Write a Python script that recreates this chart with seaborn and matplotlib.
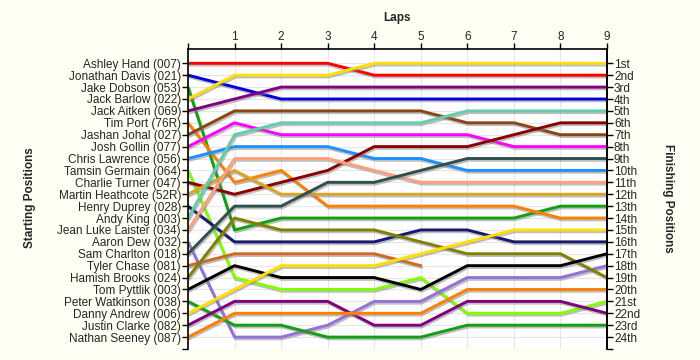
import numpy as np
import pandas as pd
import matplotlib
matplotlib.use('Agg')
import matplotlib.pyplot as plt
import matplotlib.patheffects as pe
import seaborn as sns

# ==== data: grid order, colours, position after each lap (lap 0 = start) ====
drivers = ['Ashley Hand (007)', 'Jonathan Davis (021)', 'Jake Dobson (053)', 'Jack Barlow (022)',
           'Jack Aitken (069)', 'Tim Port (76R)', 'Jashan Johal (027)', 'Josh Gollin (077)',
           'Chris Lawrence (056)', 'Tamsin Germain (064)', 'Charlie Turner (047)',
           'Martin Heathcote (52R)', 'Henry Duprey (028)', 'Andy King (003)',
           'Jean Luke Laister (034)', 'Aaron Dew (032)', 'Sam Charlton (018)', 'Tyler Chase (081)',
           'Hamish Brooks (024)', 'Tom Pyttlik (003)', 'Peter Watkinson (038)',
           'Danny Andrew (006)', 'Justin Clarke (082)', 'Nathan Seeney (087)']

colours = ['#FF0000', '#0000E0', '#10A010', '#FFE000', '#800080', '#FF8000', '#8B4513', '#FF00FF',
           '#1E90FF', '#80FF00', '#8B0000', '#DAA520', '#191970', '#66CDAA', '#FFA07A', '#9370DB',
           '#2F4F4F', '#D2691E', '#808000', '#000000', '#10A010', '#FFE000', '#800080', '#FF8000']

laps = [0, 1, 2, 3, 4, 5, 6, 7, 8, 9]
positions = [
    [1, 1, 1, 1, 2, 2, 2, 2, 2, 2],
    [2, 3, 4, 4, 4, 4, 4, 4, 4, 4],
    [3, 15, 14, 14, 14, 14, 14, 14, 13, 13],
    [4, 2, 2, 2, 1, 1, 1, 1, 1, 1],
    [5, 4, 3, 3, 3, 3, 3, 3, 3, 3],
    [6, 11, 10, 13, 13, 13, 13, 13, 14, 14],
    [7, 5, 5, 5, 5, 5, 6, 6, 7, 7],
    [8, 6, 7, 7, 7, 7, 7, 8, 8, 8],
    [9, 8, 8, 8, 9, 9, 10, 10, 10, 10],
    [10, 19, 20, 20, 20, 19, 22, 22, 22, 21],
    [11, 12, 11, 10, 8, 8, 8, 7, 6, 6],
    [12, 10, 12, 12, 12, 12, 12, 12, 12, 12],
    [13, 16, 16, 16, 16, 15, 15, 16, 16, 16],
    [14, 7, 6, 6, 6, 6, 5, 5, 5, 5],
    [15, 9, 9, 9, 10, 11, 11, 11, 11, 11],
    [16, 24, 24, 23, 21, 21, 19, 19, 19, 18],
    [17, 13, 13, 11, 11, 10, 9, 9, 9, 9],
    [18, 17, 17, 17, 17, 18, None, None, None, None],   # retired after lap 5
    [19, 14, 15, 15, 15, 16, 17, 17, 17, 19],
    [20, 18, 19, 19, 19, 20, 18, 18, 18, 17],
    [21, 23, 23, 24, 24, 24, 23, 23, 23, 23],
    [22, 20, 18, 18, 18, 17, 16, 15, 15, 15],
    [23, 21, 21, 21, 23, 23, 21, 21, 21, 22],
    [24, 22, 22, 22, 22, 22, 20, 20, 20, 20],
]

finish_labels = ['1st', '2nd', '3rd'] + [f'{i}th' for i in range(4, 21)] + ['21st', '22nd', '23rd', '24th']

# ==== long form table ====
rows = []
for name, pos in zip(drivers, positions):
    for lap, p in zip(laps, pos):
        if p is not None:
            rows.append({'Driver': name, 'Lap': lap, 'Position': p})
df = pd.DataFrame(rows)

# ==== plot ====
sns.set_theme(style='white')
plt.rcParams['font.family'] = ['Liberation Sans', 'DejaVu Sans']

fig = plt.figure(figsize=(7, 3.6), dpi=100, facecolor='#FEFEF3')
ax = fig.add_axes([188 / 700, 1 - 349 / 360, (607 - 188) / 700, 300 / 360])
ax.set_facecolor('white')

sns.lineplot(data=df, x='Lap', y='Position', hue='Driver', hue_order=drivers,
             palette=dict(zip(drivers, colours)), legend=False, sort=False,
             linewidth=2.1, ax=ax, estimator=None)

for line in ax.get_lines():
    line.set_path_effects([pe.SimpleLineShadow(offset=(0.8, -1.3), shadow_color='#808080', alpha=0.5),
                           pe.Normal()])

ax.set_xlim(0, 9)
ax.set_ylim(25, -0.2)

# grid
ax.set_xticks(range(0, 10))
ax.set_xticklabels([''] + [str(i) for i in range(1, 10)])
ax.grid(True, color='#E6E6E6', linewidth=0.8)
ax.set_axisbelow(True)

# x axis on top
ax.xaxis.tick_top()
ax.xaxis.set_label_position('top')
ax.set_xlabel('Laps', fontsize=8.5, fontweight='bold', labelpad=7)
ax.tick_params(axis='x', top=True, bottom=False, length=4, width=1, color='black',
               labelsize=8.5, pad=0.5, direction='out')

# left: starting grid names
ax.set_yticks(list(range(1, 26)))
ax.set_yticklabels(drivers + [''])
ax.tick_params(axis='y', left=True, length=4, width=1, color='black', labelsize=8.5, pad=1)
ax.set_ylabel('')

for side in ['left', 'right', 'top']:
    ax.spines[side].set_color('black')
    ax.spines[side].set_linewidth(1.2)
ax.spines['bottom'].set_visible(False)

# right: finishing positions
ax2 = ax.twinx()
ax2.set_ylim(ax.get_ylim())
ax2.set_yticks(list(range(1, 26)))
ax2.set_yticklabels(finish_labels + [''])
ax2.tick_params(axis='y', right=True, length=4, width=1, color='black', labelsize=8.5, pad=1)
for side in ['left', 'bottom', 'top']:
    ax2.spines[side].set_visible(False)
ax2.spines['right'].set_color('black')
ax2.spines['right'].set_linewidth(1.2)
ax2.grid(False)

fig.text(30 / 700, 1 - 198 / 360, 'Starting Positions', rotation=90, ha='center', va='center',
         fontsize=8.5, fontweight='bold')
fig.text(668 / 700, 1 - 198 / 360, 'Finishing Positions', rotation=-90, ha='center', va='center',
         fontsize=8.5, fontweight='bold')

fig.savefig('out.png', dpi=100, facecolor=fig.get_facecolor())
